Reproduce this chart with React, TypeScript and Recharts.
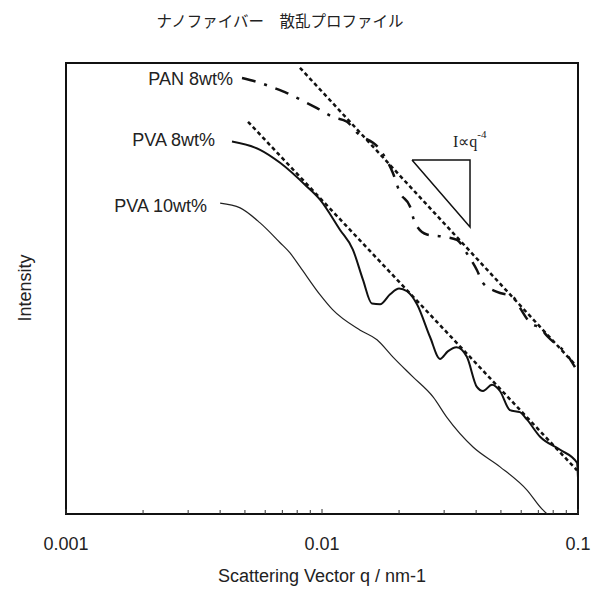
import { Line, LineChart, ReferenceArea, XAxis, YAxis } from 'recharts';

// q in nm-1, L = log10(intensity) in arbitrary units
const pva10 = [
  { q: 0.004, L: 4.55 },
  { q: 0.00479, L: 4.48 },
  { q: 0.00573, L: 4.26 },
  { q: 0.00686, L: 3.97 },
  { q: 0.0075, L: 3.82 },
  { q: 0.0082, L: 3.62 },
  { q: 0.00982, L: 3.21 },
  { q: 0.011, L: 2.99 },
  { q: 0.0141, L: 2.69 },
  { q: 0.0164, L: 2.55 },
  { q: 0.0189, L: 2.3 },
  { q: 0.0226, L: 2.01 },
  { q: 0.0272, L: 1.71 },
  { q: 0.0308, L: 1.41 },
  { q: 0.0389, L: 0.98 },
  { q: 0.0496, L: 0.69 },
  { q: 0.0632, L: 0.35 },
  { q: 0.0729, L: 0.06 },
  { q: 0.0763, L: 0.0 },
  { q: 0.0798, L: 0.0 },
];

const pva8 = [
  { q: 0.00445, L: 5.45 },
  { q: 0.00573, L: 5.33 },
  { q: 0.00686, L: 5.14 },
  { q: 0.00874, L: 4.79 },
  { q: 0.00982, L: 4.6 },
  { q: 0.01175, L: 4.16 },
  { q: 0.0132, L: 3.87 },
  { q: 0.01445, L: 3.43 },
  { q: 0.01566, L: 3.08 },
  { q: 0.01686, L: 3.07 },
  { q: 0.0185, L: 3.22 },
  { q: 0.02, L: 3.3 },
  { q: 0.02148, L: 3.26 },
  { q: 0.0235, L: 3.07 },
  { q: 0.02643, L: 2.59 },
  { q: 0.0289, L: 2.27 },
  { q: 0.031, L: 2.38 },
  { q: 0.03352, L: 2.44 },
  { q: 0.0368, L: 2.3 },
  { q: 0.04027, L: 1.86 },
  { q: 0.04256, L: 1.8 },
  { q: 0.04613, L: 1.89 },
  { q: 0.04955, L: 1.8 },
  { q: 0.0542, L: 1.52 },
  { q: 0.05929, L: 1.49 },
  { q: 0.06324, L: 1.38 },
  { q: 0.07112, L: 1.13 },
  { q: 0.08518, L: 0.94 },
  { q: 0.0991, L: 0.75 },
  { q: 0.1, L: 0.53 },
];

const pan8 = [
  { q: 0.00487, L: 6.38 },
  { q: 0.00573, L: 6.31 },
  { q: 0.00644, L: 6.24 },
  { q: 0.0073, L: 6.16 },
  { q: 0.00858, L: 6.03 },
  { q: 0.00956, L: 5.94 },
  { q: 0.01104, L: 5.81 },
  { q: 0.01252, L: 5.74 },
  { q: 0.0137, L: 5.58 },
  { q: 0.01686, L: 5.33 },
  { q: 0.01892, L: 4.99 },
  { q: 0.02017, L: 4.7 },
  { q: 0.02207, L: 4.5 },
  { q: 0.02308, L: 4.26 },
  { q: 0.02571, L: 4.09 },
  { q: 0.0297, L: 4.06 },
  { q: 0.03367, L: 4.01 },
  { q: 0.03717, L: 3.79 },
  { q: 0.04027, L: 3.57 },
  { q: 0.04256, L: 3.38 },
  { q: 0.04826, L: 3.25 },
  { q: 0.05572, L: 3.18 },
  { q: 0.05929, L: 3.02 },
  { q: 0.06494, L: 2.8 },
  { q: 0.07112, L: 2.72 },
  { q: 0.07637, L: 2.59 },
  { q: 0.09057, L: 2.33 },
  { q: 0.0973, L: 2.15 },
];

// q^-4 guide lines
const fitPan = [
  { q: 0.0082, L: 6.53 },
  { q: 0.0983, L: 2.17 },
];
const fitPva = [
  { q: 0.00514, L: 5.74 },
  { q: 0.0991, L: 0.64 },
];

const slopeTriangle = [
  { q: 0.02247, L: 5.18 },
  { q: 0.03786, L: 5.18 },
  { q: 0.03786, L: 4.2 },
  { q: 0.02247, L: 5.18 },
];

const xTicks = [
  0.001, 0.002, 0.003, 0.004, 0.005, 0.006, 0.007, 0.008, 0.009,
  0.01, 0.02, 0.03, 0.04, 0.05, 0.06, 0.07, 0.08, 0.09, 0.1,
];
const majorTicks = [0.001, 0.01, 0.1];
const majorLabels = ['0.001', '0.01', '0.1'];

const font = '"Liberation Sans", Arial, sans-serif';

function QTick(props: any) {
  const { x, y, payload } = props;
  const idx = majorTicks.indexOf(payload.value);
  return (
    <g>
      <line x1={x} x2={x} y1={y} y2={y - (idx >= 0 ? 5 : 4)} stroke="#333" strokeWidth={1} />
      {idx >= 0 && (
        <text x={x} y={y + 36} textAnchor="middle" fontSize={18} fontFamily={font} fill="#222">
          {majorLabels[idx]}
        </text>
      )}
    </g>
  );
}

export default function App() {
  return (
    <div style={{ position: 'absolute', left: 0, top: 0, background: '#fff' }}>
      <LineChart width={591} height={595} margin={{ top: 63, right: 13, bottom: 51, left: 66 }}>
        <XAxis
          dataKey="q"
          type="number"
          scale="log"
          domain={[0.001, 0.1]}
          ticks={xTicks}
          interval={0}
          allowDataOverflow
          axisLine={false}
          tickLine={false}
          tickSize={0}
          tickMargin={0}
          height={30}
          tick={<QTick />}
        />
        <YAxis dataKey="L" type="number" domain={[0, 6.6]} allowDataOverflow hide />
        <ReferenceArea x1={0.001} x2={0.1} y1={0} y2={6.6} fill="none" stroke="#111" strokeWidth={2} />
        <Line data={fitPan} dataKey="L" stroke="#111" strokeWidth={2.5} strokeDasharray="4 3" dot={false} isAnimationActive={false} />
        <Line data={fitPva} dataKey="L" stroke="#111" strokeWidth={2.5} strokeDasharray="4 3" dot={false} isAnimationActive={false} />
        <Line data={pan8} dataKey="L" type="monotone" stroke="#111" strokeWidth={2.5} strokeDasharray="14 9 3 9" dot={false} isAnimationActive={false} />
        <Line data={pva8} dataKey="L" type="monotone" stroke="#111" strokeWidth={2} dot={false} isAnimationActive={false} />
        <Line data={pva10} dataKey="L" type="monotone" stroke="#222" strokeWidth={1.2} dot={false} isAnimationActive={false} />
        <Line data={slopeTriangle} dataKey="L" stroke="#111" strokeWidth={1.5} dot={false} isAnimationActive={false} />
        <text x={280} y={27} textAnchor="middle" fontSize={15.5} fontFamily='"Noto Sans CJK JP", sans-serif' fill="#222">
          ナノファイバー　散乱プロファイル
        </text>
        <text x={233} y={85} textAnchor="end" fontSize={18} fontFamily={font} fill="#222">PAN 8wt%</text>
        <text x={215} y={146} textAnchor="end" fontSize={18} fontFamily={font} fill="#222">PVA 8wt%</text>
        <text x={207} y={212} textAnchor="end" fontSize={18} fontFamily={font} fill="#222">PVA 10wt%</text>
        <text x={453} y={147} fontSize={16} fontFamily='"Liberation Serif", serif' fill="#222">
          I∝q<tspan dy={-9} fontSize={11}>-4</tspan>
        </text>
        <text x={322} y={582} textAnchor="middle" fontSize={18} fontFamily={font} fill="#222">
          Scattering Vector q / nm-1
        </text>
        <text x={31} y={288} textAnchor="middle" fontSize={18} fontFamily={font} fill="#222" transform="rotate(-90 31 288)">
          Intensity
        </text>
      </LineChart>
    </div>
  );
}
